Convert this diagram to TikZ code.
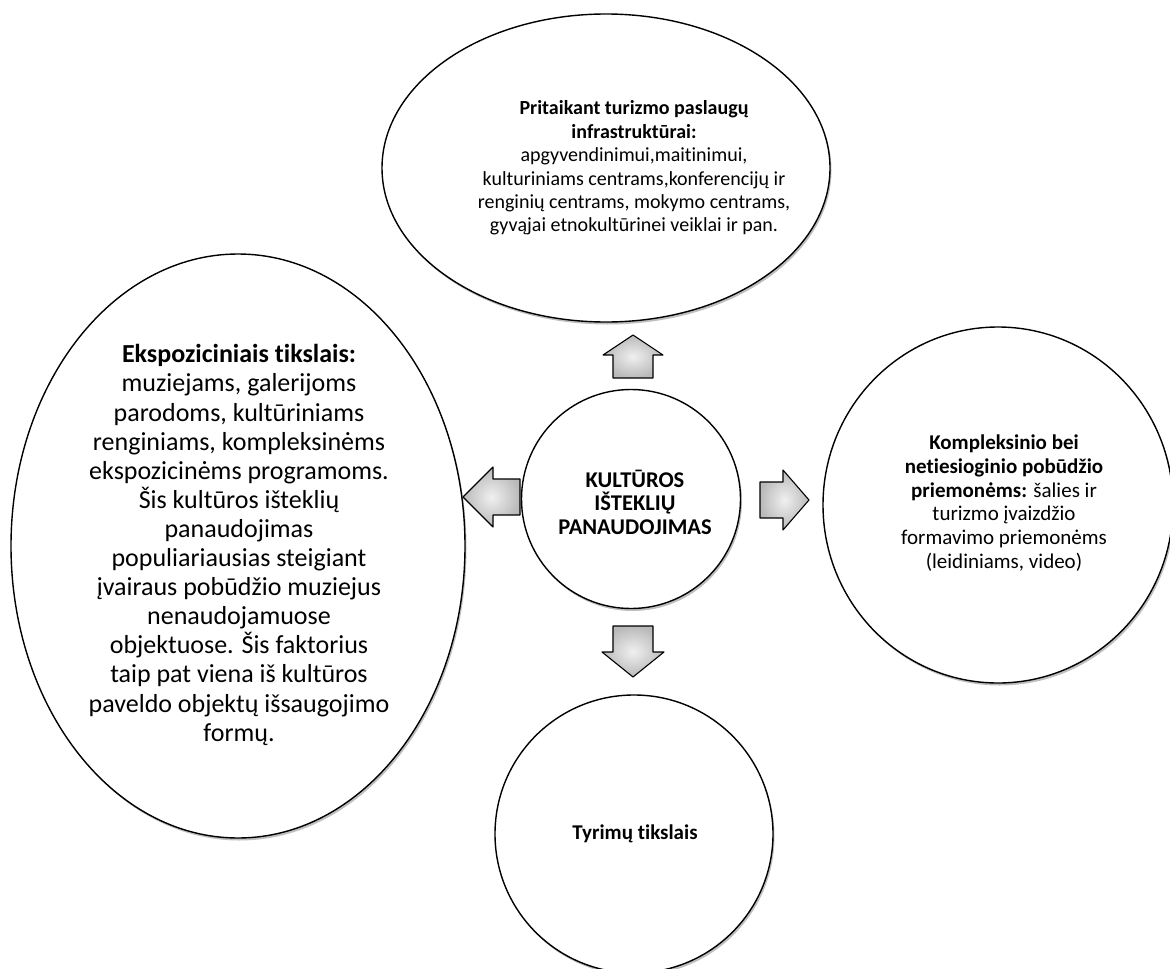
\documentclass[tikz,border=0pt]{standalone}
\usepackage{fontspec}
\setmainfont[Ligatures=NoCommon]{Carlito}
\usetikzlibrary{shapes.geometric,shadows}
\begin{document}
\begin{tikzpicture}[x=1pt,y=-1pt,
  bubble/.style={draw=black, line width=1.4pt, fill=white, ellipse, inner sep=0pt,
    drop shadow={shadow xshift=1.5pt, shadow yshift=-2.5pt, opacity=0.25, fill=black}},
  txt/.style={align=center, inner sep=0pt, text=black},
  topf/.style={font=\fontsize{20}{23.4}\selectfont},
  rightf/.style={font=\fontsize{21}{23.8}\selectfont},
  centf/.style={font=\fontsize{22.5}{23.5}\selectfont},
  big/.style={font=\fontsize{26}{29.1}\selectfont},
  blockarrow/.style={draw=black, line width=1.1pt, line join=round, inner color=gray!12, outer color=gray!55}
]
\useasboundingbox (0,0) rectangle (1170,969);
% ellipses / circles
\node[bubble, minimum width=448pt, minimum height=308pt] (top) at (606,168) {};
\node[bubble, minimum width=454pt, minimum height=584pt] (left) at (238,546) {};
\node[bubble, minimum width=350pt, minimum height=356pt] (right) at (998,505) {};
\node[bubble, minimum width=278pt, minimum height=278pt] (bottom) at (634,834) {};
\node[bubble, minimum width=219pt, minimum height=219pt] (center) at (631,499) {};
% texts
\node[txt, topf] (toptext) at (634,168) {\textbf{Pritaikant turizmo paslaugų}\\\textbf{infrastruktūrai:}\\apgyvendinimui,maitinimui,\\kulturiniams centrams,konferencijų ir\\renginių centrams, mokymo centrams,\\gyvąjai etnokultūrinei veiklai ir pan.};
\node[txt, big] (lefttext) at (239,545) {\textbf{Ekspoziciniais tikslais:}\\muziejams, galerijoms\\parodoms, kultūriniams\\renginiams, kompleksinėms\\ekspozicinėms programoms.\\Šis kultūros išteklių\\panaudojimas\\populiariausias steigiant\\įvairaus pobūdžio muziejus\\nenaudojamuose\\objektuose. Šis faktorius\\taip pat viena iš kultūros\\paveldo objektų išsaugojimo\\formų.};
\node[txt, rightf] (righttext) at (1004,503) {\textbf{Kompleksinio bei}\\\textbf{netiesioginio pobūdžio}\\\textbf{priemonėms:} šalies ir\\turizmo įvaizdžio\\formavimo priemonėms\\(leidiniams, video)};
\node[txt, centf] (centertext) at (635,502) {\textbf{KULTŪROS}\\\textbf{IŠTEKLIŲ}\\\textbf{PANAUDOJIMAS}};
\node[txt, rightf] (bottomtext) at (635,834) {\textbf{Tyrimų tikslais}};
% block arrows
\path[blockarrow] (633,335) -- (663,355) -- (653,355) -- (653,378) -- (613,378) -- (613,355) -- (603,355) -- cycle;
\path[blockarrow] (633,677) -- (664,652) -- (653,652) -- (653,626) -- (613,626) -- (613,652) -- (602,652) -- cycle;
\path[blockarrow] (463,497) -- (493,467) -- (493,479) -- (520,479) -- (520,515) -- (493,515) -- (493,527) -- cycle;
\path[blockarrow] (809,500) -- (783,470) -- (783,482) -- (760,482) -- (760,518) -- (783,518) -- (783,530) -- cycle;
\end{tikzpicture}
\end{document}
